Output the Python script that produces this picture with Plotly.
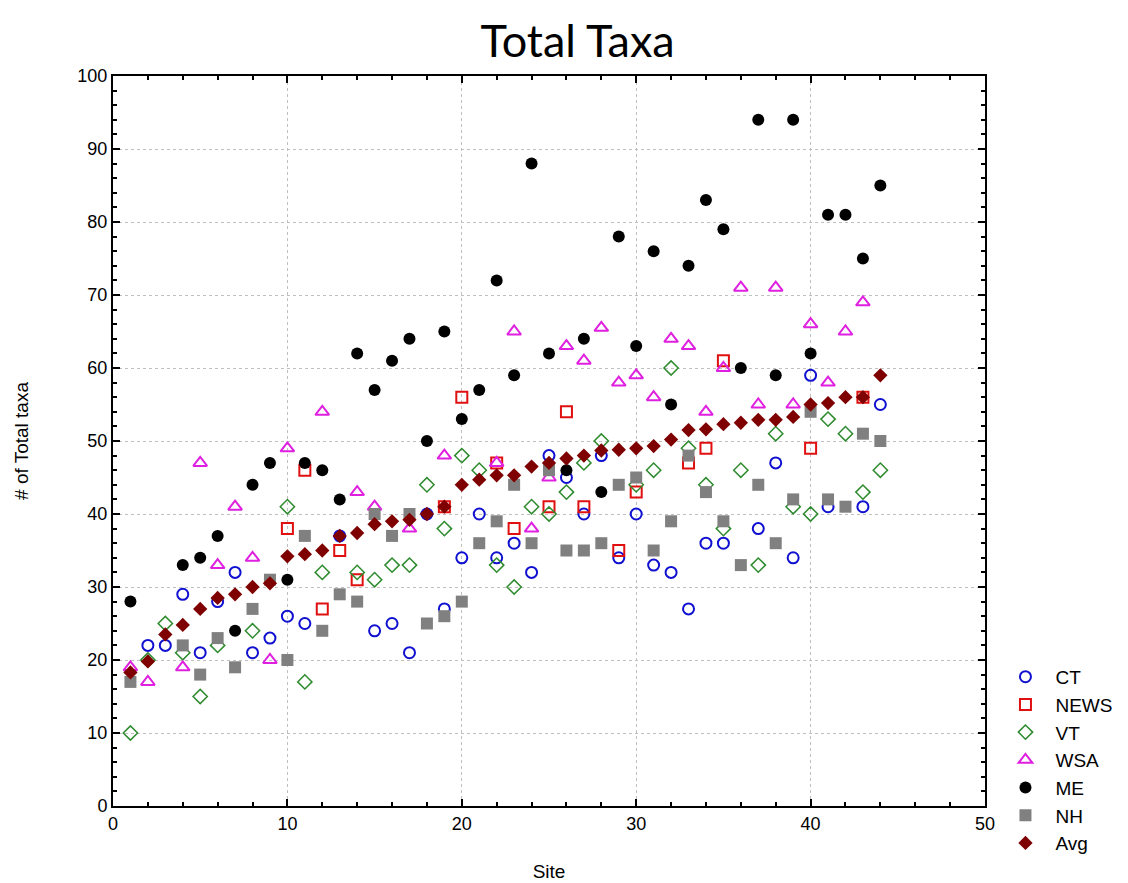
import plotly.graph_objects as go

sites = list(range(1, 45))
N = None
CT = [N, 22, 22, 29, 21, 28, 32, 21, 23, 26, 25, N, 37, N, 24, 25, 21, 40, 27, 34, 40, 34, 36, 32, 48, 45, 40, 48, 34, 40, 33, 32, 27, 36, 36, N, 38, 47, 34, 59, 41, N, 41, 55]
NEWS = [N, N, N, N, N, N, N, N, N, 38, 46, 27, 35, 31, N, N, N, N, 41, 56, N, 47, 38, N, 41, 54, 41, N, 35, 43, N, N, 47, 49, 61, N, N, N, N, 49, N, N, 56, N]
VT = [10, 20, 25, 21, 15, 22, N, 24, N, 41, 17, 32, N, 32, 31, 33, 33, 44, 38, 48, 46, 33, 30, 41, 40, 43, 47, 50, N, 44, 46, 60, 49, 44, 38, 46, 33, 51, 41, 40, 53, 51, 43, 46]
WSA = [19, 17, N, 19, 47, 33, 41, 34, 20, 49, N, 54, N, 43, 41, N, 38, N, 48, N, N, 47, 65, 38, 45, 63, 61, 65.5, 58, 59, 56, 64, 63, 54, 60, 71, 55, 71, 55, 66, 58, 65, 69, N]
ME = [28, N, N, 33, 34, 37, 24, 44, 47, 31, 47, 46, 42, 62, 57, 61, 64, 50, 65, 53, 57, 72, 59, 88, 62, 46, 64, 43, 78, 63, 76, 55, 74, 83, 79, 60, 94, 59, 94, 62, 81, 81, 75, 85]
NH = [17, N, N, 22, 18, 23, 19, 27, 31, 20, 37, 24, 29, 28, 40, 37, 40, 25, 26, 28, 36, 39, 44, 36, 46, 35, 35, 36, 44, 45, 35, 39, 48, 43, 39, 33, 44, 36, 42, 54, 42, 41, 51, 50]
AVG = [18.3, 19.8, 23.5, 24.8, 27, 28.5, 29, 30, 30.5, 34.2, 34.5, 35, 37, 37.4, 38.6, 39, 39.2, 40, 41, 44, 44.7, 45.3, 45.3, 46.5, 47, 47.6, 48, 48.7, 48.8, 49, 49.3, 50.2, 51.5, 51.6, 52.3, 52.5, 52.9, 52.9, 53.3, 55, 55.2, 56, 56, 59]

series = [
    ("CT", CT, dict(symbol="circle-open", color="#1010d0", size=11, line=dict(width=2, color="#1010d0"))),
    ("NEWS", NEWS, dict(symbol="square-open", color="#e01010", size=11, line=dict(width=2, color="#e01010"))),
    ("VT", VT, dict(symbol="diamond-open", color="#2e8b2e", size=11, line=dict(width=1.5, color="#2e8b2e"))),
    ("WSA", WSA, dict(symbol="triangle-up-open", color="#e020e0", size=12, line=dict(width=2, color="#e020e0"))),
    ("ME", ME, dict(symbol="circle", color="#000000", size=12)),
    ("NH", NH, dict(symbol="square", color="#808080", size=12)),
    ("Avg", AVG, dict(symbol="diamond", color="#7f0000", size=11)),
]

fig = go.Figure()
for name, vals, mk in series:
    fig.add_trace(go.Scatter(x=sites, y=vals, mode="markers", name=name, marker=mk))

TF = "Liberation Sans, Arial"

def axis_style():
    return dict(
        showline=True, linecolor="black", linewidth=2, mirror="ticks",
        ticks="inside", ticklen=7, tickwidth=1.5, tickcolor="black",
        showgrid=True, gridcolor="#c0c0c0", griddash="dot", gridwidth=1,
        zeroline=False,
        tickfont=dict(family=TF, size=18, color="black"),
        minor=dict(dtick=2, ticks="inside", ticklen=4, tickcolor="black", showgrid=False),
    )

fig.update_xaxes(range=[0, 50], dtick=10, tick0=0,
                 title=dict(text="Site", font=dict(family=TF, size=19, color="black"), standoff=32),
                 **axis_style())
fig.update_yaxes(range=[0, 100], dtick=10, tick0=0,
                 title=dict(text="# of Total taxa", font=dict(family=TF, size=19, color="black"), standoff=44),
                 **axis_style())

fig.update_layout(
    width=1128, height=883,
    paper_bgcolor="white", plot_bgcolor="white",
    margin=dict(l=97, r=151, t=68, b=84),
    title=dict(text="Total Taxa", x=0.505, xanchor="center", y=0.962, yanchor="middle",
               font=dict(family="Lato, Open Sans", size=45, color="black")),
    legend=dict(x=1.012, xanchor="left", y=-0.0765, yanchor="bottom",
                font=dict(family=TF, size=19, color="black"),
                bgcolor="rgba(0,0,0,0)", tracegroupgap=0, itemwidth=50),
    showlegend=True,
)

fig.write_html("out.html")
